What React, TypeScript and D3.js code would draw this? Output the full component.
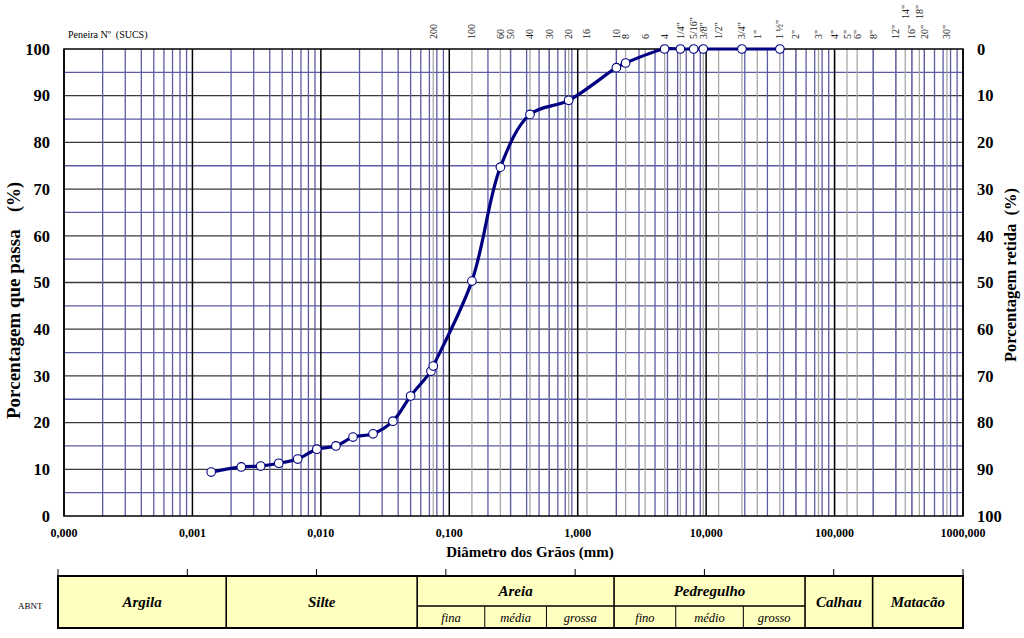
import React from "react";
import * as d3 from "d3";

// curva granulométrica
const diametros = [
  0.0014, 0.0024, 0.0034, 0.0047, 0.0066, 0.0093, 0.0131, 0.0178, 0.0255,
  0.0364, 0.05, 0.072, 0.075, 0.15, 0.25, 0.425, 0.85, 2.0, 2.36, 4.75, 6.3,
  8.0, 9.5, 19.0, 37.5,
];
const passantes = [
  9.4, 10.5, 10.7, 11.3, 12.2, 14.3, 15.0, 16.9, 17.6, 20.3, 25.7, 31.0, 32.1,
  50.3, 74.7, 86.0, 89.0, 96.0, 97.0, 100, 100, 100, 100, 100, 100,
];

// peneiras (SUCS)
const peneiras = [
  "200", "100", "60", "50", "40", "30", "20", "16", "10", "8", "6", "4",
  '1/4"', '5/16"', '3/8"', '1/2"', '3/4"', '1"', '1 ½"', '2"', '3"', '4"',
  '5"', '6"', '8"', '12"', '14"', '16"', '18"', '20"', '30"',
];
const aberturas = [
  0.075, 0.15, 0.25, 0.3, 0.425, 0.6, 0.85, 1.18, 2, 2.36, 3.35, 4.75, 6.3, 8,
  9.5, 12.5, 19, 25, 37.5, 50, 75, 100, 125, 150, 200, 300, 355, 400, 457, 500,
  750,
];

// classificação ABNT
const classes = ["Argila", "Silte", "Areia", "Pedregulho", "Calhau", "Matacão"];
const limitesClasses = [0.0001, 0.002, 0.06, 2, 60, 200, 1000];
const subclasses = ["fina", "média", "grossa", "fino", "médio", "grosso"];
const limitesSub = [0.06, 0.2, 0.6, 2, 6, 20, 60];

const yTicks = d3.range(0, 101, 10);

const W = 1024;
const H = 638;
const margin = { top: 49, left: 64, right: 61, bottom: 122 };
const innerW = W - margin.left - margin.right;
const innerH = H - margin.top - margin.bottom;

const serif = "'Liberation Serif', 'Times New Roman', serif";
const fmt = d3
  .formatLocale({ decimal: ",", thousands: ".", grouping: [3], currency: ["", ""] })
  .format(".3f");

const App = () => {
  const x = d3.scaleLog().domain([0.0001, 1000]).range([0, innerW]);
  const y = d3.scaleLinear().domain([0, 100]).range([innerH, 0]);
  const xt = d3.scaleLog().domain([0.0001, 1000]).range([58, 963]);

  const decades = d3.range(-4, 4).map((e) => Math.pow(10, e));
  const minors: number[] = [];
  d3.range(-4, 3).forEach((e) => {
    for (let k = 2; k <= 9; k++) minors.push(k * Math.pow(10, e));
  });

  const pts: [number, number][] = diametros.map((d, i) => [x(d), y(passantes[i])]);
  const line = d3.line().curve(d3.curveCatmullRom.alpha(0.5));

  const raised = ['14"', '18"'];
  const tTop = 576;
  const tMid = 606;
  const tBot = 628;

  return (
    <svg
      width={W}
      height={H}
      style={{ position: "absolute", left: 0, top: 0, background: "#fff" }}
      fontFamily={serif}
    >
      <g transform={`translate(${margin.left},${margin.top})`}>
        {/* grade horizontal */}
        {d3.range(5, 100, 5).map((v) => (
          <line
            key={"h" + v}
            x1={0}
            x2={innerW}
            y1={y(v)}
            y2={y(v)}
            stroke={v % 10 === 0 ? "#3a3a3a" : "#5c5ca6"}
            strokeWidth={1.3}
          />
        ))}
        {/* peneiras */}
        {aberturas.map((a, i) => (
          <line
            key={"s" + i}
            x1={x(a)}
            x2={x(a)}
            y1={0}
            y2={innerH}
            stroke="#a8a8a8"
            strokeWidth={1.3}
          />
        ))}
        {/* grade log menor */}
        {minors.map((m, i) => (
          <line
            key={"m" + i}
            x1={x(m)}
            x2={x(m)}
            y1={0}
            y2={innerH}
            stroke="#5c5ca6"
            strokeWidth={1.3}
          />
        ))}
        {decades.map((d, i) => (
          <line
            key={"d" + i}
            x1={x(d)}
            x2={x(d)}
            y1={0}
            y2={innerH}
            stroke="#000"
            strokeWidth={1.5}
          />
        ))}
        <rect x={0} y={0} width={innerW} height={innerH} fill="none" stroke="#000" strokeWidth={1.5} />

        {/* curva */}
        <path d={line(pts) || ""} fill="none" stroke="#000080" strokeWidth={3.2} />
        {pts.map((p, i) => (
          <circle key={"c" + i} cx={p[0]} cy={p[1]} r={4.3} fill="#fff" stroke="#000080" strokeWidth={1.1} />
        ))}

        {/* eixo y esquerdo e direito */}
        {yTicks.map((t) => (
          <g key={"yt" + t}>
            <text x={-14} y={y(t)} dy="0.35em" textAnchor="end" fontSize={16.5} fontWeight="bold">
              {t}
            </text>
            <text x={innerW + 14} y={y(t)} dy="0.35em" textAnchor="start" fontSize={16.5} fontWeight="bold">
              {100 - t}
            </text>
          </g>
        ))}

        {/* eixo x */}
        {decades.map((d, i) => (
          <text key={"xt" + i} x={x(d)} y={innerH + 21} textAnchor="middle" fontSize={12} fontWeight="bold">
            {fmt(d)}
          </text>
        ))}
        <text x={466} y={innerH + 41} textAnchor="middle" fontSize={15} fontWeight="bold">
          Diâmetro dos Grãos (mm)
        </text>

        {/* rótulos das peneiras */}
        {peneiras.map((p, i) => (
          <text
            key={"pl" + i}
            transform={`translate(${x(aberturas[i]) + 3.5},${raised.includes(p) ? -30 : -10}) rotate(-90)`}
            fontSize={10}
            fill="#222"
          >
            {p}
          </text>
        ))}
        <text x={4} y={-11} fontSize={10} style={{ whiteSpace: "pre" }}>
          {"Peneira Nº  (SUCS)"}
        </text>
      </g>

      <text transform="translate(20,419) rotate(-90)" textAnchor="start" fontSize={19} fontWeight="bold">
        Porcentagem que passa
      </text>
      <text transform="translate(20,182) rotate(-90)" textAnchor="end" fontSize={18} fontWeight="bold">
        (%)
      </text>
      <text
        transform="translate(1016,362) rotate(-90)"
        textAnchor="start"
        fontSize={16.5}
        fontWeight="bold"
        style={{ whiteSpace: "pre" }}
      >
        {"Porcentagem retida  (%)"}
      </text>

      {/* tabela ABNT */}
      <line x1={xt(0.0001)} x2={xt(1000)} y1={tTop} y2={tTop} stroke="#000" />
      {decades.map((d, i) => (
        <line key={"tt" + i} x1={xt(d)} x2={xt(d)} y1={tTop - 7} y2={tTop} stroke="#000" />
      ))}
      <rect
        x={xt(0.0001)}
        y={tTop}
        width={xt(1000) - xt(0.0001)}
        height={tBot - tTop}
        fill="#ffffc0"
        stroke="#000"
        strokeWidth={2}
      />
      {classes.map((c, i) => {
        const x0 = xt(limitesClasses[i]);
        const x1 = xt(limitesClasses[i + 1]);
        const split = c === "Areia" || c === "Pedregulho";
        return (
          <g key={"cl" + i}>
            {i > 0 && <line x1={x0} x2={x0} y1={tTop} y2={tBot} stroke="#000" strokeWidth={1.6} />}
            {split && <line x1={x0} x2={x1} y1={tMid} y2={tMid} stroke="#000" strokeWidth={1.4} />}
            <text
              x={(x0 + x1) / 2}
              y={split ? (tTop + tMid) / 2 : (tTop + tBot) / 2}
              dy="0.35em"
              textAnchor="middle"
              fontSize={15}
              fontWeight="bold"
              fontStyle="italic"
            >
              {c}
            </text>
          </g>
        );
      })}
      {subclasses.map((s, i) => {
        const x0 = xt(limitesSub[i]);
        const x1 = xt(limitesSub[i + 1]);
        return (
          <g key={"sc" + i}>
            {i > 0 && i !== 3 && <line x1={x0} x2={x0} y1={tMid} y2={tBot} stroke="#000" strokeWidth={1} />}
            <text x={(x0 + x1) / 2} y={(tMid + tBot) / 2} dy="0.38em" textAnchor="middle" fontSize={12.5} fontStyle="italic">
              {s}
            </text>
          </g>
        );
      })}
      <text x={18} y={609} fontSize={9}>
        ABNT
      </text>
    </svg>
  );
};

export default App;
